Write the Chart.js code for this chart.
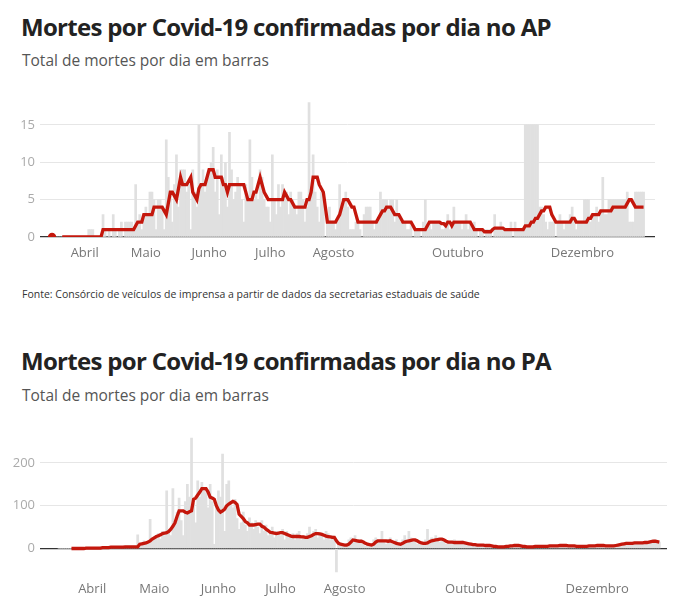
<!DOCTYPE html>
<html><head><meta charset="utf-8">
<script src="https://cdn.jsdelivr.net/npm/chart.js@4"></script>
<style>
body{margin:0;background:#fff;font-family:"Open Sans",sans-serif;width:682px;height:616px;position:relative;overflow:hidden}
.t{position:absolute;left:21px;font-weight:700;font-size:24px;color:#222;letter-spacing:-0.7px;white-space:nowrap}
.s{position:absolute;left:22px;font-size:15.5px;color:#555;white-space:nowrap}
.f{position:absolute;left:22px;font-size:10.5px;color:#333;white-space:nowrap}
.c{position:absolute;left:0;width:682px}
</style></head><body>
<div class="t" style="top:10px">Mortes por Covid-19 confirmadas por dia no AP</div>
<div class="s" style="top:49px">Total de mortes por dia em barras</div>
<div class="c" style="top:80px;height:190px"><canvas id="ap"></canvas></div>
<div class="f" style="top:287px">Fonte: Consórcio de veículos de imprensa a partir de dados da secretarias estaduais de saúde</div>
<div class="t" style="top:344px">Mortes por Covid-19 confirmadas por dia no PA</div>
<div class="s" style="top:384px">Total de mortes por dia em barras</div>
<div class="c" style="top:410px;height:200px"><canvas id="pa"></canvas></div>
<script>
// day index 0 = 16 Mar 2020
const monthTicks = [16, 46, 77, 107, 138, 199, 260];
const monthNames = ["Abril","Maio","Junho","Julho","Agosto","Outubro","Dezembro"];

const apBars = [
0,0,0,0,0,0,0,0,0,0, 0,0,0,0,0,0,0,0,1,1, 1,0,0,0,0,3,1,0,1,0, 3,1,0,1,2,0,2,2,2,2,
1,7,2,3,1,3,4,3,6,6, 5,1,5,5,4,1,13,8,6,2, 7,11,4,9,9,9,6,7,1,9, 6,4,15,7,9,6,8,9,10,12,
6,9,3,11,8,10,4,14,9,5, 6,8,7,5,2,7,5,13,8,5, 6,5,9,8,5,4,4,2,11,5, 3,7,4,7,5,6,3,6,5,4,
3,6,6,5,2,4,18,6,11,6, 4,2,6,5,0,2,4,2,2,1, 2,7,4,5,6,4,1,1,1,2, 2,1,0,3,4,4,4,2,1,2,
2,6,5,5,5,4,5,5,2,5, 3,2,2,2,1,1,2,0,1,1, 1,0,2,5,1,2,1,2,2,2, 2,1,1,2,3,1,2,4,2,2,
2,1,2,3,1,2,1,2,1,0, 1,1,0,1,1,1,0,3,1,1, 2,1,1,1,1,2,0,2,1,1, 1,1,15,15,15,15,15,15,15,4,
4,3,2,1,2,2,2,0,2,3, 2,1,2,2,3,4,2,1,2,2, 2,5,5,5,2,3,3,4,2,3, 8,3,3,5,5,5,5,5,5,5,
5,5,6,2,2,2,6,6,6,6, 6];
const apAvg = [
0,null,null,null,null,0,0,0,0,0, 0,0,0,0,0,0,0,0,0,0, 0,0,0,0,0,1,1,1,1,1, 1,1,1,1,1,1,1,1,1,1,
1,1.5,2,2,2,3,3,3,3,3, 4,4,4,4,4,3.5,3,4.5,6,6, 5.5,5,6.5,8,7,7,7,7.5,8,6, 5.5,5,6.5,7,7,7,8,9,9,9,
8,8,8,8,7,7,6,7,7,7, 7,7,7,7,7,6,5,5,5,6, 6,7,8,7,6,5.5,5,5,5,5, 5,5,5,5,6,5.5,5,5,4.5,4,
4,4,4,4,4,5,5,6,8,8, 8,7,6.5,6,4,2,2,2,2,2, 2.5,3,4,5,5,5,4.5,4,4,3, 2,2,2,2,2,2,2,2,2,2,
2.5,3,3.5,3.5,4,4,4,3.5,3,3, 3,2.5,2,2,2,2,2,1.5,1,1, 1,1,1,1,1.5,2,2,2,2,2, 2,1.8,1.8,1.5,2,2,1.5,2,2,2,
2,2,2,2,2,2,1.5,1,1,1, 1,1,0.7,0.7,0.7,0.7,1,1.2,1.2,1.2, 1.2,1.2,1,1,1,1,1,1,1,1, 1,1,1.5,1.5,1.5,2,2,2.5,2.5,3,
3.5,3.5,4,4,4,3,2.5,2,2,2, 2,2,2,2,2,2.5,2.5,2,2,2, 2,2,2,2.5,2.5,3,3,3,3,3.5, 3.5,3.5,3.5,3.5,3.5,4,4,4,4,4,
4,4,4.5,5,5,4.5,4,4,4,4, 4];

const paBars = [
0,0,0,0,0,0,0,0,0,0, 0,0,1,0,1,1,0,2,1,1, 2,1,3,2,2,3,4,3,3,5, 4,3,5,4,2,5,4,3,32,6,
12,18,10,14,68,20,28,25,35,22, 40,30,135,45,30,140,65,85,118,65, 30,110,150,120,258,105,60,158,120,155, 140,130,95,150,110,10,100,135,120,221,
40,150,158,100,95,115,70,45,60,85, 55,40,72,60,45,65,50,35,65,40, 55,30,40,50,25,40,35,30,45,20, 40,30,25,35,20,35,40,20,30,25,
35,50,25,40,45,25,35,30,20,40, 35,20,30,25,-55,15,10,5,8,12, 20,25,15,30,20,15,20,10,5,12, 10,5,20,25,15,20,40,15,10,20,
25,10,15,20,10,8,20,30,15,40, 25,15,20,10,12,8,15,20,45,20, 25,20,30,25,15,20,18,10,15,12, 15,20,10,15,12,18,10,8,12,10,
8,10,6,8,5,10,7,5,8,6, 4,6,3,5,4,2,6,5,8,4, 8,6,7,5,4,6,3,5,4,3, 6,5,4,6,5,4,6,7,5,6,
7,5,8,6,9,7,5,6,7,5, 4,6,5,7,4,5,6,7,5,6, 8,6,7,8,5,7,6,5,8,7, 9,10,12,8,15,11,14,12,10,15,
12,14,13,16,12,15,18,16,20,14, 15];
const paAvg = [
null,null,null,null,null,null,0,0,0,0, 0,0,0,1,1,1,1,1,1,1, 1,2,2,2,2,3,3,3,3,3, 3,3,4,4,4,4,4,4,4,10,
11,12,13,15,18,22,25,28,30,32, 35,36,37,40,45,52,60,75,88,88, 88,85,83,86,88,115,118,125,132,140, 140,140,132,120,118,115,100,90,85,88,
92,100,104,107,110,108,103,80,75,70, 63,60,55,55,55,56,57,57,52,50, 45,42,38,37,36,35,36,37,37,35, 33,31,29,28,28,28,28,27,27,26,
26,28,30,33,35,35,34,33,31,29, 28,27,26,26,18,12,10,9,8,8, 10,15,20,19,18,17,17,15,12,10, 9,8,10,15,18,18,18,18,18,17,
18,16,14,12,11,10,12,15,17,18, 19,20,20,18,15,13,12,12,13,16, 18,19,20,21,22,22,20,17,15,15, 15,14,14,14,14,14,13,12,11,10,
9,9,8,8,8,8,7,7,7,6, 5,5,4,4,4,4,5,5,6,6, 7,7,7,6,5,5,4,4,4,4, 5,5,5,5,5,5,5,6,6,6,
6,6,7,7,7,7,6,6,6,6, 5,5,5,5,5,5,6,6,6,6, 7,7,7,7,6,6,6,6,6,7, 8,9,10,11,12,12,12,12,13,13,
13,13,13,14,14,15,16,17,17,16, 15];

const apTicks = [0,5,10,15];
const paTicks = [0,100,200];

function pts(a){return a.map((v,i)=>({x:i,y:v}));}

function make(id, bars, avg, yTicks, xmin, xmax, ymin, ymax, padR, xH, xPad, lw){
  new Chart(document.getElementById(id), {
    data:{datasets:[
      {type:'line', data:pts(avg), borderColor:'#c4170c', backgroundColor:'#c4170c', borderWidth:lw,
       pointRadius:ctx=>ctx.dataIndex===0 && id==='ap'?2.5:0, pointHoverRadius:0, spanGaps:false, tension:0, order:0},
      {type:'bar', data:pts(bars), backgroundColor:'#e0e0e0', barPercentage:1, categoryPercentage:1, order:1}
    ]},
    options:{
      responsive:true, maintainAspectRatio:false, animation:false,
      layout:{padding:{left:0,right:padR,top:0,bottom:0}},
      plugins:{legend:{display:false},tooltip:{enabled:false}},
      scales:{
        x:{type:'linear', min:xmin, max:xmax, offset:false,
          grid:{display:false, drawTicks:false}, border:{display:false},
          afterBuildTicks:ax=>{ax.ticks=monthTicks.map(v=>({value:v}));},
          afterFit:ax=>{ax.height=xH;},
          ticks:{autoSkip:false, maxRotation:0, padding:xPad, color:'#777', font:{family:'Open Sans',size:13},
            callback:(v)=>{const k=monthTicks.indexOf(v);return k>=0?monthNames[k]:'';}}},
        y:{min:ymin, max:ymax,
          grid:{drawTicks:false, color:c=>c.tick && c.tick.value===0?'#333':'#e6e6e6', lineWidth:c=>c.tick && c.tick.value===0?1.3:1},
          border:{display:false},
          afterBuildTicks:ax=>{ax.ticks=yTicks.map(v=>({value:v}));},
          afterFit:ax=>{ax.width=40;},
          ticks:{padding:5, color:'#aaa', font:{family:'Open Sans',size:13}}}
      }
    }
  });
}
make('ap', apBars, apAvg, apTicks, -5.9, 295.6, 0, 19.3, 27, 33, 8, 3.3);
make('pa', paBars, paAvg, paTicks, -9.2, 293.7, -62, 294, 15, 35, 6, 3.3);
</script>
</body></html>
